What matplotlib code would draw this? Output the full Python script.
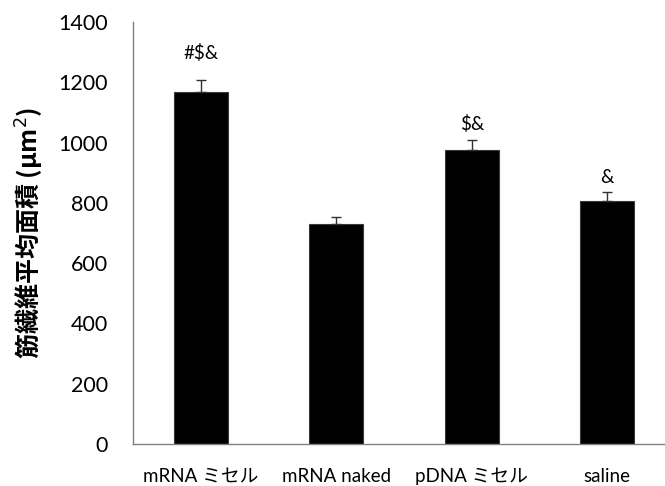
import matplotlib
matplotlib.use("Agg")
import matplotlib.pyplot as plt

plt.rcParams['font.family'] = ['Lato', 'Noto Sans CJK JP', 'DejaVu Sans']

categories = ["mRNA ミセル", "mRNA naked", "pDNA ミセル", "saline"]
means = [1167, 729, 974, 805]
errors = [40, 25, 34, 31]
marks = ["#$&", "", "$&", "&"]
y_ticks = [0, 200, 400, 600, 800, 1000, 1200, 1400]

fig = plt.figure(figsize=(6.65, 4.86), dpi=100)
ax = fig.add_axes([0.2, 0.0864, 0.815, 0.8683])

x = list(range(len(categories)))
ax.bar(x, means, width=0.4, color='black', edgecolor='#3a3a3a', linewidth=0.8, zorder=2)
ax.errorbar(x, means, yerr=[[0] * len(errors), errors], fmt='none',
            ecolor='#303030', elinewidth=1.0, capsize=3.5, capthick=1.0, zorder=3)

# significance marks above the error bars
mark_offsets = [18, 7, 7, 6]
for xi, m, e, s, off in zip(x, means, errors, marks, mark_offsets):
    if s:
        ax.annotate(s, (xi, m + e), xytext=(0, off), textcoords='offset pixels',
                    ha='center', va='bottom', fontsize=13.5,
                    family=['Lato', 'DejaVu Sans'])

ax.set_xlim(-0.5, 3.5)
ax.set_ylim(0, 1400)
ax.set_yticks(y_ticks)
ax.set_yticklabels([str(t) for t in y_ticks], fontsize=15.5)
ax.set_xticks(x)
ax.set_xticklabels(categories, fontsize=13.5)
ax.tick_params(axis='both', length=0)
ax.tick_params(axis='y', pad=18)
ax.tick_params(axis='x', pad=17)

for side in ['top', 'right']:
    ax.spines[side].set_visible(False)
for side in ['left', 'bottom']:
    ax.spines[side].set_color('#808080')
    ax.spines[side].set_linewidth(1.0)

ax.set_ylabel("筋繊維平均面積 (μm$^2$)", fontsize=18, fontweight='bold',
              family=['Noto Sans CJK JP', 'DejaVu Sans'], labelpad=9)

fig.savefig("out.png", dpi=100)
